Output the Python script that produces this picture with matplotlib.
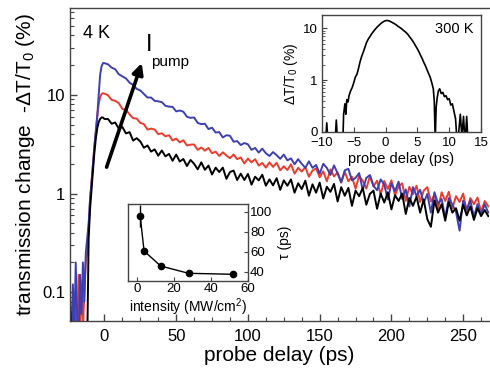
import matplotlib
matplotlib.use("Agg")
import matplotlib.pyplot as plt
from matplotlib.ticker import MultipleLocator, LogLocator, NullFormatter, FixedLocator, FixedFormatter

plt.rcParams['font.family'] = ['Liberation Sans', 'DejaVu Sans']
plt.rcParams['mathtext.fontset'] = 'custom'
plt.rcParams['mathtext.rm'] = 'Liberation Sans'
plt.rcParams['mathtext.it'] = 'Liberation Sans:italic'

# ---- 4 K pump-probe traces (probe delay in ps, -dT/T0 in %) ----
delay_pre = [-24, -23, -22, -21, -20, -19, -18, -17, -16, -15, -14, -13,
             -12, -11, -10, -9, -8, -7, -6, -5, -4, -3, -2, -1]
delay_tail = [0, 2.5, 5, 7.5, 10, 12.5, 15, 17.5, 20, 22.5, 25, 27.5,
              30, 32.5, 35, 37.5, 40, 42.5, 45, 47.5, 50, 52.5, 55, 57.5,
              60, 62.5, 65, 67.5, 70, 72.5, 75, 77.5, 80, 82.5, 85, 87.5,
              90, 92.5, 95, 97.5, 100, 102.5, 105, 107.5, 110, 112.5, 115, 117.5,
              120, 122.5, 125, 127.5, 130, 132.5, 135, 137.5, 140, 142.5, 145, 147.5,
              150, 152.5, 155, 157.5, 160, 162.5, 165, 167.5, 170, 172.5, 175, 177.5,
              180, 182.5, 185, 187.5, 190, 192.5, 195, 197.5, 200, 202.5, 205, 207.5,
              210, 212.5, 215, 217.5, 220, 222.5, 225, 227.5, 230, 232.5, 235, 237.5,
              240, 242.5, 245, 247.5, 250, 252.5, 255, 257.5, 260, 262.5, 265, 267.5]
delay = delay_pre + delay_tail

high_pre = [0.07, 0.03, 0.12, 0.04, 0.2, 0.05, 0.03, 0.15, 0.06, 0.2, 0.08, 0.25,
            0.35, 0.5, 0.9, 1.3, 2.0, 3.0, 4.3, 6.2, 10, 16, 19.5, 21]
high_tail = [21.0, 20.4, 18.9, 18.2, 16.2, 15.4, 14.7, 13.3, 12.6, 11.5, 11.1, 10.2,
             9.4, 9.4, 8.7, 8.6, 8.45, 7.75, 7.6, 7.55, 6.8, 6.95, 6.75, 6.0,
             5.85, 5.9, 5.2, 5.05, 5.1, 4.5, 4.65, 4.15, 4.2, 3.7, 3.9, 3.85,
             3.35, 3.4, 3.1, 3.25, 3.15, 2.77, 2.9, 2.6, 2.85, 2.56, 2.4, 2.63,
             2.45, 2.25, 2.48, 2.17, 2.27, 1.98, 2.23, 2.0, 1.82, 2.12, 1.82, 1.95,
             1.59, 2.0, 1.82, 1.54, 1.93, 1.6, 1.3, 1.72, 1.78, 1.36, 1.44, 1.61,
             1.09, 1.44, 1.54, 1.2, 1.08, 1.39, 1.23, 0.87, 1.27, 1.06, 1.32, 0.88,
             1.1, 0.74, 1.16, 0.95, 1.09, 0.8, 0.99, 0.64, 1.03, 0.79, 0.88, 0.57,
             0.9, 0.77, 0.65, 0.42, 0.85, 0.69, 0.85, 0.58, 0.78, 0.61, 0.78, 0.64]

mid_pre = [0.03, 0.05, 0.03, 0.08, 0.04, 0.03, 0.15, 0.05, 0.12, 0.04, 0.1, 0.2,
           0.25, 0.45, 0.85, 1.3, 2.0, 3.0, 4.3, 6.0, 8.0, 9.5, 10.2, 10.4]
mid_tail = [10.3, 9.9, 8.9, 8.7, 8.25, 7.2, 7.05, 6.35, 5.8, 5.75, 5.2, 5.05,
            4.45, 4.55, 4.45, 4.0, 4.08, 3.8, 3.9, 3.45, 3.6, 3.3, 3.47, 3.07,
            3.13, 3.14, 2.77, 2.93, 2.72, 2.9, 2.56, 2.66, 2.4, 2.62, 2.43, 2.28,
            2.49, 2.23, 2.32, 2.02, 2.26, 2.07, 2.23, 1.92, 2.04, 1.83, 2.07, 1.86,
            2.05, 1.72, 1.89, 1.73, 1.98, 1.59, 1.82, 1.67, 1.85, 1.48, 1.71, 1.8,
            1.46, 1.68, 1.33, 1.76, 1.49, 1.64, 1.29, 1.66, 1.33, 1.48, 1.12, 1.51,
            1.35, 1.12, 1.5, 1.18, 1.35, 0.98, 1.34, 1.11, 1.36, 0.96, 1.18, 1.27,
            0.84, 1.17, 0.98, 1.2, 0.82, 1.07, 1.16, 0.83, 0.97, 0.7, 1.03, 0.84,
            1.04, 0.71, 0.94, 0.82, 1.0, 0.66, 0.9, 0.78, 0.91, 0.65, 0.84, 0.74]

low_pre = [0.09, 0.03, 0.02, 0.03, 0.02, 0.03, 0.02, 0.03, 0.02, 0.03, 0.02, 0.03,
           0.03, 0.35, 0.7, 1.1, 1.7, 2.6, 3.6, 4.6, 5.3, 5.7, 5.9, 5.9]
low_tail = [5.7, 5.7, 5.1, 5.25, 4.55, 4.72, 4.07, 4.19, 3.44, 3.64, 3.37, 2.91,
            3.07, 2.66, 2.8, 2.42, 2.73, 2.38, 2.52, 2.15, 2.48, 2.11, 2.24, 1.9,
            2.19, 2.0, 1.76, 2.07, 1.74, 1.92, 1.56, 1.83, 1.65, 1.83, 1.41, 1.65,
            1.71, 1.37, 1.59, 1.37, 1.58, 1.23, 1.48, 1.36, 1.55, 1.2, 1.39, 1.21,
            1.43, 1.09, 1.36, 1.2, 1.39, 1.02, 1.27, 1.11, 1.35, 0.95, 1.24, 1.02,
            1.29, 0.89, 1.17, 1.04, 1.25, 0.83, 1.16, 0.95, 1.14, 0.75, 1.07, 0.94,
            1.14, 0.77, 0.99, 1.07, 0.7, 1.0, 0.81, 1.03, 0.69, 0.96, 0.84, 1.0,
            0.62, 0.9, 0.75, 0.93, 0.64, 0.87, 0.55, 0.46, 0.85, 0.64, 0.78, 0.53,
            0.82, 0.64, 0.71, 0.53, 0.77, 0.6, 0.74, 0.54, 0.71, 0.59, 0.68, 0.59]

high_trace = high_pre + high_tail
mid_trace = mid_pre + mid_tail
low_trace = low_pre + low_tail

# ---- 300 K trace ----
rt_delay = [-10, -9.75, -9.5, -9.25, -9.0, -8.75, -8.5, -8.25, -8.0, -7.75, -7.5, -7.25,
            -7.0, -6.75, -6.6, -6.4, -6.25, -6.1, -5.9, -5.75, -5.5, -5.25, -5.0, -4.75,
            -4.5, -4.25, -4.0, -3.75, -3.5, -3.25, -3.0, -2.75, -2.5, -2.25, -2.0, -1.75,
            -1.5, -1.25, -1.0, -0.75, -0.5, -0.25, 0, 0.25, 0.5, 0.75, 1.0, 1.25,
            1.5, 1.75, 2.0, 2.25, 2.5, 2.75, 3.0, 3.25, 3.5, 3.75, 4.0, 4.25,
            4.5, 4.75, 5.0, 5.25, 5.5, 5.75, 6.0, 6.25, 6.5, 6.75, 7.0, 7.25,
            7.5, 7.65, 7.8, 7.95, 8.1, 8.3, 8.5, 8.75, 9.0, 9.25, 9.5, 9.75,
            10.0, 10.25, 10.5, 10.75, 11.0, 11.25, 11.5, 11.75, 12.0, 12.25, 12.5, 12.75, 13.0]
rt_signal = [0.05, 0.05, 0.05, 0.15, 0.05, 0.05, 0.05, 0.05, 0.05, 0.17, 0.05, 0.05,
             0.05, 0.05, 0.22, 0.35, 0.22, 0.42, 0.38, 0.5, 0.62, 0.72, 0.9, 1.15,
             1.3, 1.7, 2.3, 2.9, 3.5, 4.3, 5.3, 6.1, 6.8, 7.6, 8.4, 9.2,
             10.0, 10.8, 11.5, 12.3, 13.0, 13.6, 14.0, 14.1, 13.9, 13.5, 13.0, 12.5,
             12.0, 11.4, 10.8, 10.3, 9.8, 9.2, 8.7, 8.2, 7.6, 6.9, 6.3, 5.7,
             5.1, 4.5, 4.0, 3.5, 3.0, 2.6, 2.2, 1.9, 1.6, 1.35, 1.15, 0.9,
             0.68, 0.4, 0.07, 0.3, 0.45, 0.62, 0.68, 0.55, 0.58, 0.48, 0.5, 0.42,
             0.44, 0.33, 0.35, 0.25, 0.18, 0.06, 0.1, 0.22, 0.08, 0.2, 0.06, 0.2, 0.05]

# ---- decay time vs pump intensity ----
intensity = [1.6, 3.7, 12.7, 27.8, 52.0]
tau = [96, 61, 46, 38.7, 37.7]
tau_err = [11, 0, 0, 0, 0]

BLUE = '#3c40b4'
RED = '#ee3b2b'
FRAME = '#444444'

fig = plt.figure(figsize=(4.9, 3.74), dpi=100)
ax = fig.add_axes([70 / 490, 1 - 321 / 374, 419 / 490, 313 / 374])

ax.plot(delay, mid_trace, color=RED, lw=1.4)
ax.plot(delay, high_trace, color=BLUE, lw=1.4)
ax.plot(delay, low_trace, color='black', lw=1.4)

ax.set_yscale('log')
ax.set_xlim(-24, 268)
ax.set_ylim(0.051, 76)
ax.xaxis.set_major_locator(MultipleLocator(50))
ax.xaxis.set_minor_locator(MultipleLocator(12.5))
ax.yaxis.set_major_locator(FixedLocator([0.1, 1, 10]))
ax.yaxis.set_major_formatter(FixedFormatter(['0.1', '1', '10']))
ax.yaxis.set_minor_locator(LogLocator(base=10, subs=range(2, 10)))
ax.yaxis.set_minor_formatter(NullFormatter())
ax.tick_params(which='both', direction='in', labelsize=12, color=FRAME)
ax.tick_params(which='major', length=5, width=1)
ax.tick_params(which='minor', length=3, width=0.8)
ax.tick_params(axis='x', pad=6)
for side in ('left', 'bottom', 'top'):
    ax.spines[side].set_color(FRAME)
    ax.spines[side].set_linewidth(1.0)
ax.spines['right'].set_visible(False)

ax.set_xlabel('probe delay (ps)', fontsize=15, labelpad=1)
ax.set_ylabel('transmission change  -ΔT/T$_0$ (%)', fontsize=15, labelpad=4)

ax.text(-15, 42, '4 K', fontsize=13, va='center', ha='left')
ax.annotate('', xy=(26, 21), xytext=(1.5, 1.85),
            arrowprops=dict(arrowstyle='-|>', lw=2.6, color='black',
                            mutation_scale=16, shrinkA=0, shrinkB=0))
ax.text(29, 32, 'I', fontsize=17, va='center', ha='left')
ax.text(32.5, 21.5, 'pump', fontsize=11, va='center', ha='left')

# ---- 300 K inset ----
ins = fig.add_axes([322 / 490, 1 - 132 / 374, 159 / 490, 117 / 374])
ins.plot(rt_delay, rt_signal, color='black', lw=1.2)
ins.set_yscale('log')
ins.set_xlim(-10, 15)
ins.set_ylim(0.1, 18)
ins.xaxis.set_major_locator(MultipleLocator(5))
ins.yaxis.set_major_locator(FixedLocator([0.1, 1, 10]))
ins.yaxis.set_major_formatter(FixedFormatter(['0', '1', '10']))
ins.yaxis.set_minor_locator(LogLocator(base=10, subs=range(2, 10)))
ins.yaxis.set_minor_formatter(NullFormatter())
ins.tick_params(which='both', direction='in', labelsize=9.5, color=FRAME, pad=3)
ins.tick_params(axis='x', pad=3.5)
ins.tick_params(which='major', length=3.5)
ins.tick_params(which='minor', length=2)
for s in ins.spines.values():
    s.set_color(FRAME)
    s.set_linewidth(1.0)
ins.set_xlabel('probe delay (ps)', fontsize=10.5, labelpad=2)
ins.set_ylabel('ΔT/T$_0$ (%)', fontsize=10, labelpad=2)
ins.text(0.95, 0.88, '300 K', transform=ins.transAxes, fontsize=10.5,
         ha='right', va='center')

# ---- decay time inset ----
tin = fig.add_axes([128 / 490, 1 - 281 / 374, 120 / 490, 77 / 374])
tin.errorbar(intensity, tau, yerr=tau_err, fmt='-o', color='black', lw=1.0,
             ms=4.5, elinewidth=1.0, capsize=0)
tin.set_xlim(-5, 60)
tin.set_ylim(31, 108)
tin.xaxis.set_major_locator(MultipleLocator(20))
tin.yaxis.set_major_locator(MultipleLocator(20))
tin.yaxis.tick_right()
tin.yaxis.set_label_position('right')
tin.tick_params(which='both', direction='in', labelsize=9.5, color=FRAME, pad=1.5, length=3)
for s in tin.spines.values():
    s.set_color(FRAME)
    s.set_linewidth(1.0)
tin.set_xlabel('intensity (MW/cm$^2$)', fontsize=10, labelpad=1)
tin.set_ylabel('τ (ps)', fontsize=10, labelpad=4)

fig.savefig('out.png', dpi=100)
